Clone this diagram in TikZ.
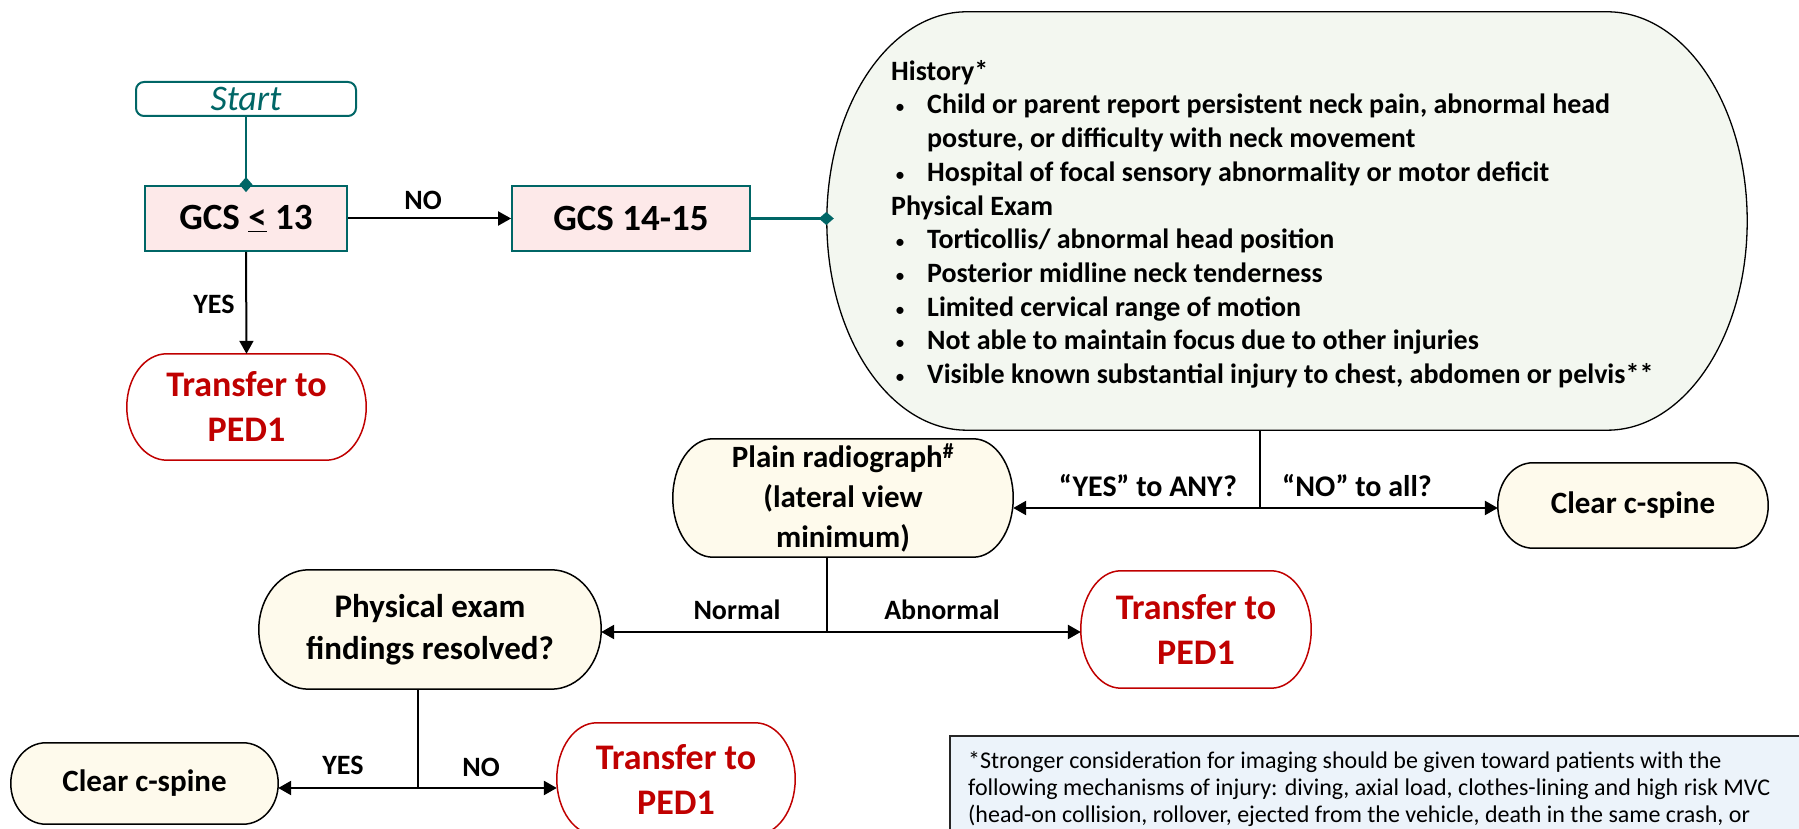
\documentclass[tikz,border=0pt]{standalone}
\usepackage{fontspec}
\setmainfont{Carlito}
\usetikzlibrary{arrows.meta,backgrounds,calc}
\definecolor{tealc}{RGB}{0,102,102}
\definecolor{pinkf}{RGB}{253,233,233}
\definecolor{greenf}{RGB}{243,247,240}
\definecolor{creamf}{RGB}{254,250,236}
\definecolor{redt}{RGB}{192,0,0}
\definecolor{bluef}{RGB}{236,243,250}
\newcommand\ebox[4]{%
  \path[#4] ([xshift=#2]#1.north west) -- ([xshift=-#2]#1.north east)
    arc[start angle=90,end angle=0,x radius=#2,y radius=#3]
    -- ([yshift=#3]#1.south east)
    arc[start angle=0,end angle=-90,x radius=#2,y radius=#3]
    -- ([xshift=#2]#1.south west)
    arc[start angle=270,end angle=180,x radius=#2,y radius=#3]
    -- ([yshift=-#3]#1.north west)
    arc[start angle=180,end angle=90,x radius=#2,y radius=#3]
    -- cycle;}
\newcommand\bulitem{\makebox[36pt][l]{\hspace*{4pt}{\fontsize{20}{20}\selectfont\mdseries •}}}
\begin{document}
\begin{tikzpicture}[x=1pt,y=1pt,
  lbl/.style={font=\fontsize{28}{32}\selectfont\bfseries, inner sep=0},
  tealline/.style={draw=tealc, line width=2.5pt},
  dtip/.style={-{Diamond[length=15pt,width=13pt]}, shorten >=-7pt},
  arr/.style={draw=black, line width=2pt, -{Triangle[length=13pt,width=14pt]}},
  darr/.style={draw=black, line width=2.5pt, {Triangle[length=13pt,width=14pt]}-{Triangle[length=13pt,width=14pt]}},
  vline/.style={draw=black, line width=1.3pt},
  gcs/.style={draw=tealc, line width=1.8pt, fill=pinkf, minimum height=65pt, inner sep=0, font=\fontsize{37}{42}\selectfont\bfseries},
  eshape/.style={inner sep=0, align=center},
  redtxt/.style={eshape, text=redt, font=\fontsize{36}{45}\selectfont\bfseries},
  blktxt/.style={eshape, font=\fontsize{31}{40}\selectfont\bfseries},
  redline/.style={draw=redt, line width=1.5pt, fill=white},
  creamline/.style={draw=black, line width=1.5pt, fill=creamf}
]
\useasboundingbox (0,0) rectangle (1799,829);

% footnote box
\node[draw=black!85, line width=2pt, fill=bluef, minimum width=870pt, minimum height=120pt, anchor=north west, inner sep=0] (fnbox) at (949,94) {};
\node[anchor=north west, align=left, font=\fontsize{24}{27}\selectfont, inner sep=0] (fn) at (968,78)
 {*Stronger consideration for imaging should be given toward patients with the\\
  following mechanisms of injury: diving, axial load, clothes-lining and high risk MVC\\
  (head-on collision, rollover, ejected from the vehicle, death in the same crash, or};

% nodes
\node[draw=tealc, line width=2pt, fill=white, rounded corners=8pt, minimum width=220pt, minimum height=34pt, inner sep=0,
      text=tealc, font=\fontsize{36}{40}\selectfont\itshape] (start) at (246,730) {Start};
\node[gcs, minimum width=202pt] (gcs13) at (246,610.5) {GCS \underline{<} 13};
\node[gcs, minimum width=238pt] (gcs1415) at (631,610.5) {GCS 14-15};
\node[redtxt, minimum width=239pt, minimum height=106pt] (tr1) at (246.5,422) {Transfer to\\PED1};
\node[eshape, minimum width=920pt, minimum height=418pt] (big) at (1287,608) {};
\node[anchor=north west, align=left, inner sep=0, font=\fontsize{28}{33.7}\selectfont\bfseries] (hist) at (891,769)
 {History*\\
  \bulitem Child or parent report persistent neck pain, abnormal head\\
  \hspace*{36pt}posture, or difficulty with neck movement\\
  \bulitem Hospital of focal sensory abnormality or motor deficit\\
  Physical Exam\\
  \bulitem Torticollis/ abnormal head position\\
  \bulitem Posterior midline neck tenderness\\
  \bulitem Limited cervical range of motion\\
  \bulitem Not able to maintain focus due to other injuries\\
  \bulitem Visible known substantial injury to chest, abdomen or pelvis**};
\node[blktxt, minimum width=340pt, minimum height=118pt] (plain) at (843,331) {Plain radiograph\textsuperscript{\#}\\(lateral view\\minimum)};
\node[blktxt, minimum width=270pt, minimum height=85pt] (clear1) at (1633,323.5) {Clear c-spine};
\node[blktxt, minimum width=342pt, minimum height=119pt, font=\fontsize{33}{42}\selectfont\bfseries] (phys) at (430,199.5) {Physical exam\\findings resolved?};
\node[redtxt, minimum width=230pt, minimum height=117pt] (tr2) at (1196,199.5) {Transfer to\\PED1};
\node[blktxt, minimum width=267pt, minimum height=81pt] (clear2) at (144.5,45.5) {Clear c-spine};
\node[redtxt, minimum width=238pt, minimum height=112pt] (tr3) at (676,50) {Transfer to\\PED1};

\begin{scope}[on background layer]
  \ebox{big}{140pt}{209pt}{draw=black, line width=1.3pt, fill=greenf}
  \ebox{tr1}{40pt}{53pt}{redline}
  \ebox{plain}{40pt}{59pt}{creamline}
  \ebox{clear1}{35pt}{42.5pt}{creamline}
  \ebox{phys}{50pt}{59.5pt}{creamline}
  \ebox{tr2}{40pt}{58.5pt}{redline}
  \ebox{clear2}{35pt}{40.5pt}{creamline}
  \ebox{tr3}{40pt}{56pt}{redline}
\end{scope}

% junctions
\coordinate (jA) at (1260,321);
\coordinate (jB) at (827,197);
\coordinate (jC) at (418,41);

% connectors
\draw[tealline, dtip] (start) -- (gcs13);
\draw[tealline, dtip] (gcs1415.east) -- (big.west |- gcs1415.east);
\draw[arr] (gcs13.east) -- (gcs1415.west |- gcs13.east);
\draw[arr] (gcs13.south) -- (tr1.north);
\draw[vline] (jA |- big.south) -- (jA);
\draw[darr] (plain.east |- jA) -- (clear1.west |- jA);
\draw[vline] (jB |- plain.south) -- (jB);
\draw[darr] (phys.east |- jB) -- (tr2.west |- jB);
\draw[vline] (jC |- phys.south) -- (jC);
\draw[darr] (clear2.east |- jC) -- (tr3.west |- jC);

% labels
\node[lbl] (lno1) at (423,629) {NO};
\node[lbl] (lyes1) at (214,525) {YES};
\node[lbl, font=\fontsize{30}{34}\selectfont\bfseries] (lyesany) at (1148,343) {“YES” to ANY?};
\node[lbl, font=\fontsize{30}{34}\selectfont\bfseries] (lnoall) at (1357,343) {“NO” to all?};
\node[lbl] (lnorm) at (737,219) {Normal};
\node[lbl] (labn) at (942,219) {Abnormal};
\node[lbl] (lyes2) at (343,64) {YES};
\node[lbl] (lno2) at (481,62) {NO};
\end{tikzpicture}
\end{document}
